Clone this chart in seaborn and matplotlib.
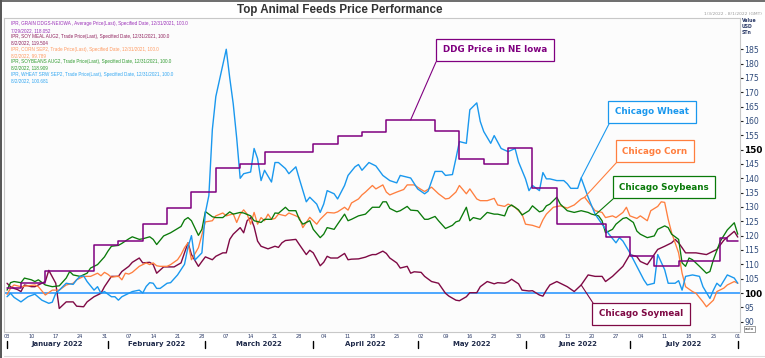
import pandas as pd
import numpy as np
import matplotlib
matplotlib.use("Agg")
import matplotlib.pyplot as plt
import seaborn as sns
from matplotlib.lines import Line2D

sns.set_style("white")
plt.rcParams["font.family"] = ["DejaVu Sans"]

# ---- data (indexed, 12/31/2021 = 100) ----
ddg_dates = ["01-03", "01-07", "01-14", "01-28", "02-04", "02-11", "02-18", "02-25", "03-04", "03-11",
             "03-18", "04-01", "04-08", "04-15", "04-22", "05-06", "05-13", "05-20", "05-27", "06-03",
             "06-10", "06-24", "07-01", "07-08", "07-15", "07-27", "07-29", "08-01"]
ddg_vals = [101.8, 103.5, 107.8, 116.8, 118.2, 124.0, 129.5, 135.2, 143.6, 145.1,
            149.3, 152.0, 154.9, 156.3, 160.4, 156.6, 146.7, 145.1, 150.7, 136.7,
            124.0, 119.6, 112.8, 109.3, 111.0, 119.3, 118.1, 118.1]

wheat_dates = ["01-03", "01-04", "01-05", "01-07", "01-09", "01-11", "01-13", "01-15", "01-16", "01-17",
               "01-18", "01-20", "01-22", "01-23", "01-24", "01-25", "01-26", "01-28", "01-29", "01-30",
               "01-31", "02-02", "02-03", "02-04", "02-05", "02-07", "02-08", "02-10", "02-11", "02-12",
               "02-13", "02-14", "02-15", "02-16", "02-18", "02-19", "02-21", "02-23", "02-24", "02-25",
               "02-26", "02-28", "03-01", "03-02", "03-03", "03-04", "03-07", "03-08", "03-09", "03-10",
               "03-11", "03-12", "03-14", "03-15", "03-16", "03-17", "03-18", "03-20", "03-21", "03-22",
               "03-24", "03-25", "03-27", "03-28", "03-30", "03-31", "04-02", "04-03", "04-04", "04-05",
               "04-07", "04-08", "04-10", "04-11", "04-13", "04-14", "04-15", "04-17", "04-19", "04-21",
               "04-23", "04-25", "04-26", "04-29", "05-01", "05-03", "05-04", "05-06", "05-08", "05-09",
               "05-11", "05-12", "05-13", "05-15", "05-16", "05-18", "05-19", "05-20", "05-22", "05-23",
               "05-25", "05-27", "05-29", "05-30", "06-01", "06-02", "06-03", "06-05", "06-06", "06-07",
               "06-08", "06-10", "06-12", "06-13", "06-14", "06-16", "06-17", "06-19", "06-21", "06-23",
               "06-25", "06-27", "06-28", "06-29", "07-01", "07-03", "07-05", "07-06", "07-08", "07-09",
               "07-11", "07-12", "07-14", "07-15", "07-16", "07-17", "07-19", "07-21", "07-22", "07-24",
               "07-25", "07-26", "07-27", "07-29", "07-31", "08-01"]
wheat_vals = [98.7, 99.9, 98.5, 96.9, 98.7, 99.6, 97.5, 96.4, 96.8, 99.9,
              101.0, 103.4, 103.0, 104.6, 105.8, 106.0, 104.0, 101.0, 102.2, 99.9,
              100.5, 98.7, 98.7, 97.5, 98.7, 99.9, 100.5, 101.0, 100.0, 102.3,
              103.6, 103.4, 101.6, 101.6, 103.4, 103.6, 106.3, 110.0, 116.0, 120.0,
              111.5, 114.0, 128.0, 134.0, 157.0, 168.5, 185.0, 175.0, 166.0, 154.0,
              140.0, 141.6, 142.2, 150.4, 146.9, 139.2, 142.8, 138.7, 145.5, 145.5,
              143.4, 141.6, 144.0, 139.8, 131.8, 133.4, 131.0, 128.1, 131.0, 135.7,
              134.6, 132.8, 137.5, 141.0, 144.0, 144.8, 142.8, 145.5, 144.3, 141.0,
              139.2, 138.4, 141.0, 140.1, 136.3, 134.6, 135.5, 142.4, 142.4, 141.0,
              141.3, 146.9, 152.8, 152.2, 163.9, 166.3, 159.8, 156.3, 152.2, 154.9,
              150.4, 149.3, 150.4, 145.7, 139.8, 135.7, 137.5, 135.7, 142.0, 139.8,
              139.8, 139.2, 139.2, 138.1, 136.5, 136.5, 140.1, 133.4, 127.5, 124.0,
              120.5, 117.5, 119.3, 118.1, 114.0, 109.3, 104.6, 102.8, 103.4, 113.4,
              108.1, 103.4, 103.4, 104.3, 101.0, 105.8, 106.3, 105.8, 102.2, 98.1,
              101.0, 103.4, 102.3, 106.3, 105.2, 103.4]

corn_dates = ["01-03", "01-04", "01-05", "01-07", "01-11", "01-12", "01-14", "01-16", "01-18", "01-20",
              "01-22", "01-23", "01-25", "01-27", "01-29", "01-30", "01-31", "02-01", "02-02", "02-04",
              "02-05", "02-06", "02-07", "02-08", "02-10", "02-12", "02-13", "02-14", "02-15", "02-16",
              "02-18", "02-19", "02-21", "02-22", "02-23", "02-24", "02-25", "02-27", "03-01", "03-03",
              "03-04", "03-06", "03-07", "03-09", "03-10", "03-11", "03-12", "03-13", "03-14", "03-15",
              "03-16", "03-17", "03-18", "03-19", "03-20", "03-21", "03-22", "03-24", "03-25", "03-27",
              "03-28", "03-29", "03-30", "03-31", "04-02", "04-03", "04-05", "04-07", "04-08", "04-10",
              "04-11", "04-12", "04-14", "04-15", "04-16", "04-18", "04-19", "04-21", "04-22", "04-23",
              "04-25", "04-27", "04-28", "04-30", "05-02", "05-03", "05-05", "05-07", "05-09", "05-10",
              "05-12", "05-13", "05-15", "05-16", "05-18", "05-19", "05-21", "05-23", "05-24", "05-26",
              "05-27", "05-29", "05-31", "06-01", "06-03", "06-05", "06-06", "06-07", "06-09", "06-11",
              "06-13", "06-15", "06-17", "06-18", "06-19", "06-21", "06-23", "06-24", "06-26", "06-27",
              "06-29", "06-30", "07-01", "07-03", "07-04", "07-06", "07-07", "07-09", "07-10", "07-11",
              "07-12", "07-13", "07-15", "07-16", "07-17", "07-19", "07-20", "07-22", "07-23", "07-25",
              "07-26", "07-28", "07-29", "07-31", "08-01"]
corn_vals = [99.5, 101.6, 102.8, 102.2, 102.8, 102.2, 99.3, 101.0, 101.0, 102.8,
             103.4, 104.6, 105.8, 105.8, 106.9, 106.0, 107.2, 106.5, 105.5, 105.9,
             104.6, 106.9, 106.6, 107.2, 109.3, 110.5, 109.9, 110.5, 109.5, 109.3,
             109.3, 109.9, 111.6, 113.4, 115.8, 117.5, 111.6, 115.8, 124.8, 125.2,
             126.9, 127.9, 126.9, 127.6, 124.6, 127.5, 129.0, 127.5, 124.0, 128.1,
             124.0, 126.3, 125.2, 127.5, 125.7, 126.0, 127.5, 126.9, 127.9, 126.9,
             126.3, 122.8, 124.6, 126.4, 124.0, 125.7, 128.1, 127.9, 128.3, 129.9,
             128.9, 131.4, 132.8, 134.2, 135.2, 137.5, 136.3, 137.7, 135.2, 134.2,
             135.2, 136.1, 137.7, 137.7, 136.1, 135.4, 136.9, 134.6, 132.8, 133.0,
             135.2, 137.5, 134.6, 136.3, 132.8, 132.2, 132.2, 133.0, 130.7, 130.2,
             131.0, 129.9, 127.5, 124.0, 123.6, 122.8, 125.5, 127.5, 129.9, 130.4,
             129.6, 130.7, 132.8, 133.4, 131.8, 128.7, 128.1, 126.3, 126.9, 126.3,
             128.1, 129.9, 126.9, 126.0, 126.9, 125.2, 128.7, 130.2, 131.8, 131.6,
             125.7, 121.0, 114.0, 106.9, 102.2, 100.5, 99.9, 96.9, 95.2, 97.5,
             100.5, 101.7, 102.8, 104.0, 103.4]

soy_dates = ["01-03", "01-04", "01-05", "01-07", "01-08", "01-10", "01-11", "01-12", "01-14", "01-16",
             "01-18", "01-20", "01-21", "01-22", "01-24", "01-26", "01-27", "01-29", "01-31", "02-01",
             "02-02", "02-04", "02-05", "02-07", "02-08", "02-10", "02-11", "02-13", "02-14", "02-15",
             "02-17", "02-19", "02-22", "02-23", "02-24", "02-25", "02-27", "02-28", "03-01", "03-03",
             "03-04", "03-06", "03-08", "03-09", "03-11", "03-12", "03-14", "03-15", "03-17", "03-18",
             "03-20", "03-21", "03-22", "03-24", "03-25", "03-27", "03-28", "03-29", "03-31", "04-01",
             "04-03", "04-04", "04-05", "04-07", "04-08", "04-10", "04-11", "04-12", "04-14", "04-16",
             "04-17", "04-18", "04-20", "04-21", "04-22", "04-23", "04-25", "04-26", "04-28", "04-29",
             "05-01", "05-03", "05-04", "05-06", "05-07", "05-09", "05-11", "05-12", "05-13", "05-15",
             "05-16", "05-17", "05-19", "05-21", "05-23", "05-24", "05-26", "05-27", "05-28", "05-30",
             "05-31", "06-02", "06-03", "06-05", "06-06", "06-07", "06-08", "06-10", "06-11", "06-13",
             "06-15", "06-17", "06-19", "06-20", "06-22", "06-23", "06-24", "06-26", "06-27", "06-29",
             "06-30", "07-02", "07-03", "07-04", "07-06", "07-08", "07-09", "07-11", "07-12", "07-13",
             "07-14", "07-15", "07-16", "07-17", "07-18", "07-19", "07-21", "07-23", "07-24", "07-25",
             "07-27", "07-29", "07-31", "08-01"]
soy_vals = [101.0, 103.6, 104.0, 103.6, 105.2, 104.6, 104.0, 104.6, 102.8, 102.2,
            102.5, 105.2, 107.5, 106.3, 105.8, 106.9, 108.7, 109.9, 112.6, 114.6,
            116.3, 116.6, 117.3, 118.9, 119.6, 118.7, 118.9, 119.6, 118.7, 116.9,
            119.9, 121.0, 123.2, 125.5, 126.3, 125.2, 120.1, 122.2, 128.4, 126.6,
            126.3, 126.3, 128.3, 127.5, 128.1, 127.9, 126.9, 125.2, 124.6, 125.7,
            125.7, 127.9, 127.8, 129.9, 128.7, 128.7, 125.7, 124.0, 125.2, 122.2,
            119.3, 120.5, 122.8, 122.2, 124.0, 127.5, 125.2, 125.7, 126.9, 127.5,
            128.7, 129.9, 129.9, 131.8, 131.8, 129.5, 128.3, 128.7, 130.2, 128.9,
            128.7, 125.7, 125.7, 126.7, 125.2, 122.5, 123.6, 124.8, 125.2, 129.9,
            125.2, 126.3, 125.7, 128.1, 127.5, 127.5, 126.9, 129.9, 130.7, 129.0,
            127.2, 128.7, 130.4, 128.3, 128.7, 130.4, 131.0, 133.4, 131.0, 128.7,
            128.1, 128.7, 128.1, 127.5, 126.9, 125.2, 121.0, 122.2, 124.0, 126.0,
            126.3, 124.6, 121.6, 120.5, 119.3, 119.9, 122.2, 123.4, 122.8, 120.5,
            119.6, 118.7, 110.5, 109.3, 112.2, 111.6, 109.3, 106.9, 107.5, 111.6,
            118.1, 122.0, 124.5, 120.5]

meal_dates = ["01-03", "01-04", "01-05", "01-06", "01-07", "01-08", "01-10", "01-11", "01-13", "01-14",
              "01-15", "01-17", "01-18", "01-20", "01-22", "01-23", "01-25", "01-26", "01-28", "01-30",
              "01-31", "02-02", "02-04", "02-05", "02-07", "02-08", "02-10", "02-11", "02-13", "02-14",
              "02-15", "02-17", "02-20", "02-22", "02-23", "02-24", "02-25", "02-27", "02-28", "03-01",
              "03-03", "03-04", "03-06", "03-07", "03-08", "03-09", "03-11", "03-12", "03-13", "03-14",
              "03-15", "03-16", "03-17", "03-19", "03-21", "03-22", "03-23", "03-24", "03-27", "03-28",
              "03-30", "03-31", "04-01", "04-03", "04-04", "04-05", "04-06", "04-08", "04-10", "04-11",
              "04-12", "04-14", "04-16", "04-17", "04-18", "04-19", "04-21", "04-22", "04-23", "04-25",
              "04-26", "04-28", "04-29", "04-30", "05-02", "05-03", "05-05", "05-07", "05-09", "05-10",
              "05-12", "05-13", "05-15", "05-16", "05-18", "05-19", "05-21", "05-23", "05-24", "05-26",
              "05-27", "05-28", "05-30", "05-31", "06-02", "06-03", "06-05", "06-06", "06-07", "06-08",
              "06-10", "06-13", "06-15", "06-17", "06-19", "06-21", "06-23", "06-24", "06-26", "06-29",
              "07-01", "07-03", "07-04", "07-06", "07-08", "07-09", "07-11", "07-13", "07-14", "07-15",
              "07-16", "07-17", "07-20", "07-23", "07-26", "07-28", "07-31", "08-01"]
meal_vals = [103.4, 102.2, 101.6, 101.2, 100.5, 102.8, 102.2, 102.2, 103.4, 104.0,
             107.9, 103.4, 94.6, 96.9, 96.9, 95.4, 95.2, 96.9, 98.7, 99.9,
             102.2, 105.8, 105.8, 107.5, 109.3, 110.7, 112.2, 110.5, 110.7, 109.9,
             106.9, 109.1, 109.1, 110.5, 114.0, 117.5, 113.4, 109.3, 111.0, 112.6,
             111.6, 112.8, 114.0, 114.0, 118.7, 120.5, 122.8, 121.0, 125.2, 126.3,
             123.1, 118.1, 116.3, 115.4, 116.3, 115.9, 117.5, 118.3, 118.7, 116.9,
             113.4, 114.9, 114.0, 109.5, 110.7, 112.8, 112.2, 112.2, 113.8, 111.6,
             111.8, 111.9, 112.5, 113.0, 113.4, 113.4, 114.6, 113.8, 112.2, 110.5,
             108.7, 109.3, 106.9, 107.4, 107.2, 105.8, 104.0, 103.4, 99.9, 98.9,
             97.5, 97.3, 98.7, 100.1, 100.1, 102.2, 104.0, 103.2, 103.6, 103.4,
             103.9, 104.8, 103.2, 101.0, 100.7, 100.8, 99.3, 98.9, 101.0, 102.8,
             104.0, 102.2, 100.5, 102.8, 106.3, 105.8, 105.8, 104.0, 105.8, 109.3,
             113.4, 112.7, 111.0, 109.9, 113.4, 115.2, 116.3, 117.5, 118.7, 117.5,
             115.8, 114.0, 114.0, 113.4, 115.2, 118.4, 121.5, 119.5]

month_names = ["January 2022", "February 2022", "March 2022", "April 2022",
               "May 2022", "June 2022", "July 2022"]
month_edges = ["2022-01-03", "2022-02-01", "2022-03-01", "2022-04-01", "2022-05-01",
               "2022-06-01", "2022-07-01", "2022-08-01"]
yticks = list(range(90, 190, 5))

info_lines = [
    ("IPR, GRAIN DDGS-NEIOWA , Average Price(Last), Specified Date, 12/31/2021, 100.0", "#9a2fb8"),
    ("7/29/2022, 118.052", "#9a2fb8"),
    ("IPR, SOY MEAL AUG2, Trade Price(Last), Specified Date, 12/31/2021, 100.0", "#8f1f5c"),
    ("8/2/2022, 119.504", "#8f1f5c"),
    ("IPR, CORN SEP2, Trade Price(Last), Specified Date, 12/31/2021, 100.0", "#ff9a60"),
    ("8/2/2022, 99.789", "#ff9a60"),
    ("IPR, SOYBEANS AUG2, Trade Price(Last), Specified Date, 12/31/2021, 100.0", "#2e9a2e"),
    ("8/2/2022, 118.909", "#2e9a2e"),
    ("IPR, WHEAT SRW SEP2, Trade Price(Last), Specified Date, 12/31/2021, 100.0", "#30a6f2"),
    ("8/2/2022, 100.681", "#30a6f2"),
]


def to_df(dates, vals):
    return pd.DataFrame({"date": pd.to_datetime(["2022-" + d for d in dates]), "value": vals})


W, H = 765, 358
fig = plt.figure(figsize=(W / 100, H / 100), dpi=100)
ax = fig.add_axes([4 / W, (H - 332) / H, 735.5 / W, 314 / H])
ax.set_facecolor("#fcfcfc")

ax.axhline(100, color="#1e90ff", lw=1.1, zorder=1)

# name, df, color, lw, label box centre (px), leader corner (px), leader date
series = [
    ("Chicago Soymeal", to_df(meal_dates, meal_vals), "#7f0a45", 1.0, (641, 314), (593, 303), "06-17"),
    ("Chicago Corn", to_df(corn_dates, corn_vals), "#ff7f3f", 0.95, (655, 151), (617, 162), "06-18"),
    ("Chicago Soybeans", to_df(soy_dates, soy_vals), "#0a7a0a", 0.95, (664, 187), (613, 199), "06-21"),
    ("Chicago Wheat", to_df(wheat_dates, wheat_vals), "#1a98ee", 1.0, (652, 112), (610, 122), "06-17"),
    ("DDG Price in NE Iowa", to_df(ddg_dates, ddg_vals), "#800080", 1.1, (495, 50), (436, 62), "04-29"),
]

for name, df, col, lw, _, _, _ in series:
    kw = {"drawstyle": "steps-post"} if name.startswith("DDG") else {}
    sns.lineplot(data=df, x="date", y="value", color=col, lw=lw, ax=ax, zorder=3, **kw)

ax.set_xlabel("")
ax.set_ylabel("")
ax.set_xlim(pd.Timestamp("2022-01-02 03:00"), pd.Timestamp("2022-08-01 12:00"))
ax.set_ylim(86.4, 195.9)

for sp in ax.spines.values():
    sp.set_color("#c8c8c8")
    sp.set_linewidth(0.8)

# right value axis
ax.yaxis.tick_right()
ax.set_yticks(yticks)
ax.set_yticklabels([str(t) for t in yticks])
ax.tick_params(axis="y", direction="out", length=2.2, width=0.8, color="#222",
               labelsize=5.6, labelcolor="#2e4a7a", pad=1.2)
for lbl in ax.get_yticklabels():
    if lbl.get_text() in ("100", "150"):
        lbl.set_fontweight("bold")
        lbl.set_color("black")
        lbl.set_fontsize(6.4)

# weekly day ticks
mondays = pd.date_range("2022-01-03", "2022-08-01", freq="W-MON")
ax.set_xticks(mondays)
ax.set_xticklabels([d.strftime("%d") for d in mondays])
ax.tick_params(axis="x", direction="out", length=0.8, width=0.5, color="#777",
               labelsize=3.6, labelcolor="#2b3a67", pad=0.8)

# month bands
edges = pd.to_datetime(month_edges)
xtr = ax.get_xaxis_transform()
for e in edges:
    ax.add_line(Line2D([e, e], [-0.028, -0.052], transform=xtr, color="black",
                       lw=1.0, clip_on=False))
for name, a, b in zip(month_names, edges[:-1], edges[1:]):
    ax.text(a + (b - a) / 2, -0.039, name, transform=xtr, ha="center", va="center",
            fontsize=5.0, fontweight="bold", color="#1f2a4a")

# label boxes with leader lines
for name, df, col, lw, (cx, cy), (lx, ly), adate in series:
    t = pd.Timestamp("2022-" + adate)
    if name.startswith("DDG"):
        yv = df.loc[df["date"] <= t, "value"].iloc[-1]
    else:
        yv = np.interp(t.value, df["date"].astype("int64"), df["value"])
    ax.annotate("", xy=(t, yv), xytext=(lx, H - ly), textcoords="figure pixels",
                arrowprops=dict(arrowstyle="-", color=col, lw=0.8, shrinkA=0, shrinkB=0),
                zorder=4)
    fig.text(cx / W, 1 - cy / H, name, ha="center", va="center", fontsize=6.3,
             fontweight="bold", color=col, zorder=5,
             bbox=dict(boxstyle="square,pad=0.75", fc="white", ec=col, lw=0.9))

# title and small header texts
fig.text(340 / W, 1 - 10 / H, "Top Animal Feeds Price Performance", ha="center", va="center",
         fontsize=8.4, fontweight="bold", color="#333333", family=["Liberation Sans", "DejaVu Sans"])
for i, (txt, col) in enumerate(info_lines):
    fig.text(11 / W, 1 - (24 + i * 6.3) / H, txt, ha="left", va="center", fontsize=3.3,
             color=col, family=["Liberation Sans", "DejaVu Sans"])
fig.text(762 / W, 1 - 14 / H, "1/3/2022 - 8/1/2022 (GMT)", ha="right", va="center",
         fontsize=3.2, color="#9a9a9a")
for i, txt in enumerate(["Value", "USD", "STn"]):
    fig.text(742 / W, 1 - (21 + i * 6) / H, txt, ha="left", va="center", fontsize=3.3,
             fontweight="bold", color="#2b3a67")
fig.text(749.5 / W, 1 - 329 / H, "auto", ha="center", va="center", fontsize=3.0, color="#333",
         bbox=dict(boxstyle="square,pad=0.25", fc="white", ec="#777", lw=0.5))

# outer frame lines
fig.add_artist(Line2D([0.8 / W, 0.8 / W], [0, 1], color="#555555", lw=1.4))
fig.add_artist(Line2D([0, 1], [1 - 0.6 / H, 1 - 0.6 / H], color="#555555", lw=1.2))
fig.add_artist(Line2D([4 / W, 1], [1 - 356 / H, 1 - 356 / H], color="#dddddd", lw=0.8))

fig.savefig("out.png", dpi=100)
